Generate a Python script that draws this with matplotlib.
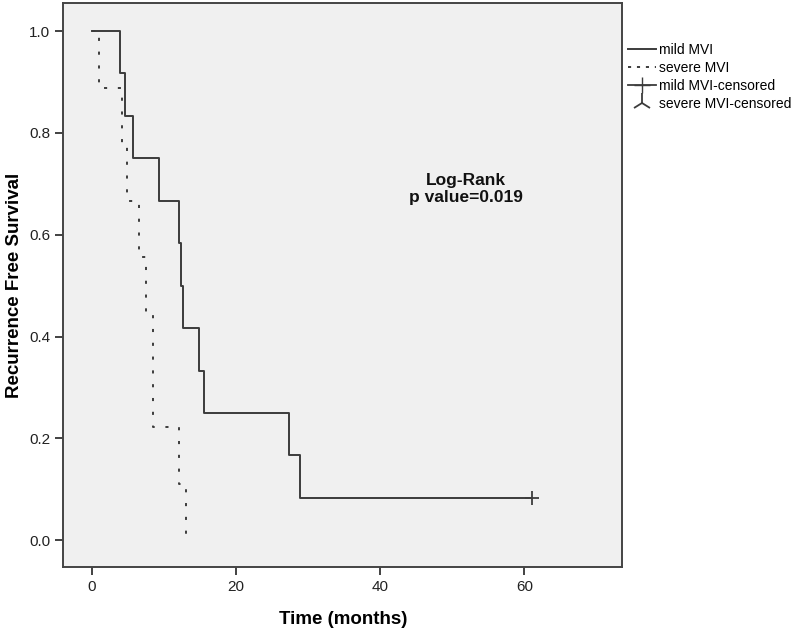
import numpy as np
import matplotlib as mpl
import matplotlib.pyplot as plt
from matplotlib.lines import Line2D

mpl.rcParams['font.family'] = ['Liberation Sans', 'DejaVu Sans']

# mild MVI: event times (months) and survival after each step
mild_t = [0, 3.9, 4.6, 5.7, 9.3, 12.1, 12.4, 12.6, 14.9, 15.6, 27.3, 28.9]
mild_s = [1.0, 0.917, 0.833, 0.75, 0.667, 0.583, 0.5, 0.417, 0.333, 0.25, 0.167, 0.083]
mild_cens_t = [61]
mild_cens_s = [0.083]

# severe MVI
sev_t = [0, 1.0, 4.1, 4.9, 6.5, 7.45, 8.4, 8.45, 12.1, 13.05]
sev_s = [1.0, 0.889, 0.778, 0.667, 0.556, 0.444, 0.333, 0.222, 0.111, 0.0]

xticks = [0, 20, 40, 60]
yticks = [0.0, 0.2, 0.4, 0.6, 0.8, 1.0]

fig = plt.figure(figsize=(8, 6.28), dpi=100)
ax = fig.add_axes([0.079, 0.097, 0.699, 0.898])
ax.set_facecolor('#f0f0f0')

line_col = '#3c3c3c'
# extend mild curve to the censored point
ax.step(mild_t + mild_cens_t, mild_s + mild_cens_s, where='post',
        color=line_col, lw=1.4)
ax.plot(mild_cens_t, mild_cens_s, marker='+', ms=10, mew=1.3,
        color=line_col, ls='none')
ax.step(sev_t, sev_s, where='post', color=line_col, lw=1.4,
        dashes=(1.6, 5.5))

ax.text(51.9, 0.69, 'Log-Rank\np value=0.019', ha='center', va='center',
        fontsize=12.5, fontweight='bold', color='#111111', linespacing=1.15)

ax.set_xlim(-4.0, 73.6)
ax.set_ylim(-0.053, 1.055)
ax.set_xticks(xticks)
ax.set_yticks(yticks)
ax.set_yticklabels(['%.1f' % v for v in yticks])
ax.tick_params(direction='out', length=6, width=1.3, colors='#333333',
               labelsize=11, labelcolor='#222222')
for sp in ax.spines.values():
    sp.set_color('#444444')
    sp.set_linewidth(1.4)

ax.set_xlabel('Time (months)', fontsize=13.5, fontweight='bold', labelpad=12)
ax.set_ylabel('Recurrence Free Survival', fontsize=13.5, fontweight='bold',
              labelpad=4)

handles = [
    Line2D([], [], color=line_col, lw=1.4),
    Line2D([], [], color=line_col, lw=1.4, dashes=(1.6, 3)),
    Line2D([], [], color=line_col, lw=1.3, marker='+', ms=12, ls='-'),
    Line2D([], [], color=line_col, lw=1.3, marker='2', ms=14, mew=1.3, ls='none'),
]
labels = ['mild MVI', 'severe MVI', 'mild MVI-censored', 'severe MVI-censored']
leg = ax.legend(handles, labels, loc='upper left', bbox_to_anchor=(1.0, 0.94),
                frameon=False, fontsize=10, handlelength=2.0,
                handletextpad=0.2, labelspacing=0.3, borderaxespad=0.2,
                borderpad=0.2)

fig.savefig('out.png', dpi=100)
